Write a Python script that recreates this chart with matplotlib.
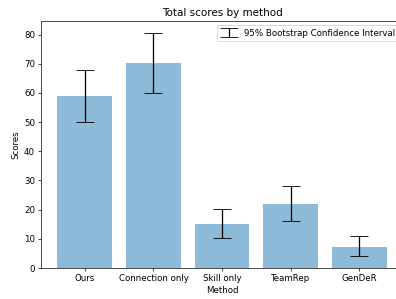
import matplotlib
matplotlib.use("Agg")
import matplotlib.pyplot as plt
import numpy as np

methods = ["Ours", "Connection only", "Skill only", "TeamRep", "GenDeR"]
scores = [59.0, 70.4, 15.0, 22.0, 7.3]
ci_low = [50.1, 59.9, 10.3, 16.2, 4.1]
ci_high = [67.7, 80.6, 20.3, 28.1, 11.0]

DPI = 62
fig = plt.figure(figsize=(396 / DPI, 299 / DPI), dpi=DPI)
ax = fig.add_axes([41 / 396, 31 / 299, 362 / 396, 247 / 299])

x = np.arange(len(methods))
scores_arr = np.array(scores)
yerr = np.vstack([scores_arr - np.array(ci_low), np.array(ci_high) - scores_arr])

ax.bar(x, scores_arr, width=0.8, color="C0", alpha=0.5)
ax.errorbar(x, scores_arr, yerr=yerr, fmt="none", ecolor="black", capsize=10,
            label="95% Bootstrap Confidence Interval")
ax.set_xticks(x)
ax.set_xticklabels(methods)
ax.set_title("Total scores by method")
ax.set_xlabel("Method")
ax.set_ylabel("Scores")
ax.legend(loc="upper right")

fig.savefig("out.png", dpi=DPI)
